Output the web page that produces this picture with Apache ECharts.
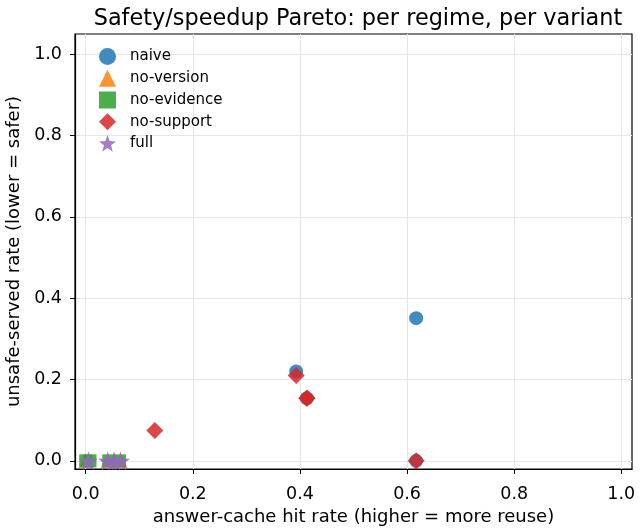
<!DOCTYPE html>
<html>
<head>
<meta charset="utf-8">
<script src="https://cdn.jsdelivr.net/npm/echarts@6/dist/echarts.min.js"></script>
<style>
  html, body { margin: 0; padding: 0; background: #fff; }
  #chart { width: 640px; height: 532px; }
</style>
</head>
<body>
<div id="chart"></div>
<script>
// variant names (legend order)
const variants = ["naive", "no-version", "no-evidence", "no-support", "full"];

// [hit rate, unsafe rate] per regime
const naivePts = [[0.617, 0.351], [0.393, 0.22], [0.413, 0.154], [0.617, 0.0]];
const noVersionPts = [[0.0, 0.0], [0.041, 0.0], [0.053, 0.0], [0.065, 0.0]];
const noEvidencePts = [[0.0, 0.0], [0.008, 0.0], [0.043, 0.0], [0.063, 0.0]];
const noSupportPts = [[0.393, 0.21], [0.413, 0.154], [0.413, 0.154], [0.617, 0.0], [0.129, 0.075]];
const fullPts = [[0.005, 0.0], [0.041, 0.0], [0.053, 0.0], [0.065, 0.0]];

const tickVals = [0, 0.2, 0.4, 0.6, 0.8, 1.0];

const colors = ["#1f77b4", "#ff7f0e", "#2ca02c", "#d62728", "#9467bd"];
// fatter 5-point star, close to matplotlib's "*"
const star = "path://M50,0 L63,36 L100,38 L71,61 L81,98 L50,77 L19,98 L29,61 L0,38 L37,36 Z";
const symbols = ["circle", "triangle", "rect", "diamond", star];
const sizes = [14, 14, 13, 17, 19];
const allPts = [naivePts, noVersionPts, noEvidencePts, noSupportPts, fullPts];

const font = "DejaVu Sans";

let chart = echarts.init(document.getElementById("chart"), null, { renderer: "canvas" });

let axisCommon = {
  type: "value",
  nameLocation: "middle",
  nameTextStyle: { fontFamily: font, fontSize: 18, color: "#000" },
  axisLine: { show: true, onZero: false, lineStyle: { color: "#000", width: 1.2 } },
  axisTick: { show: true, inside: false, length: 5, customValues: tickVals, lineStyle: { color: "#000", width: 1 } },
  axisLabel: {
    customValues: tickVals,
    fontFamily: font, fontSize: 17.5, color: "#000",
    formatter: (v) => v.toFixed(1),
  },
  splitLine: { show: true, lineStyle: { color: "#e6e6e6", width: 1 } },
};

let option = {
  animation: false,
  backgroundColor: "#fff",
  title: {
    text: "Safety/speedup Pareto: per regime, per variant",
    left: 353, top: 3, textAlign: "center",
    textStyle: { fontFamily: font, fontSize: 22.4, fontWeight: "normal", color: "#000" },
  },
  grid: {
    left: 75, right: 8, top: 34, bottom: 63,
    outerBoundsMode: "none",
    containLabel: false,
    show: true, borderColor: "#000", borderWidth: 1.2, backgroundColor: "transparent",
  },
  legend: {
    orient: "vertical",
    left: 94, top: 43,
    itemWidth: 17, itemHeight: 17, itemGap: 4.75,
    textStyle: { fontFamily: font, fontSize: 15, color: "#000", padding: [0, 0, 0, 9] },
    data: variants.map((v, i) => ({ name: v, icon: symbols[i] })),
  },
  xAxis: {
    ...axisCommon,
    min: -0.02, max: 1.02,
    name: "answer-cache hit rate (higher = more reuse)",
    nameGap: 38,
    axisLabel: { ...axisCommon.axisLabel, margin: 16 },
  },
  yAxis: {
    ...axisCommon,
    min: -0.02, max: 1.05,
    name: "unsafe-served rate (lower = safer)",
    nameGap: 45,
    axisLabel: { ...axisCommon.axisLabel, margin: 13 },
  },
  series: variants.map((v, i) => ({
    name: v,
    type: "scatter",
    symbol: symbols[i],
    symbolSize: sizes[i],
    symbolKeepAspect: true,
    itemStyle: { color: colors[i], opacity: 0.85 },
    data: allPts[i],
  })),
};

chart.setOption(option);
</script>
</body>
</html>
